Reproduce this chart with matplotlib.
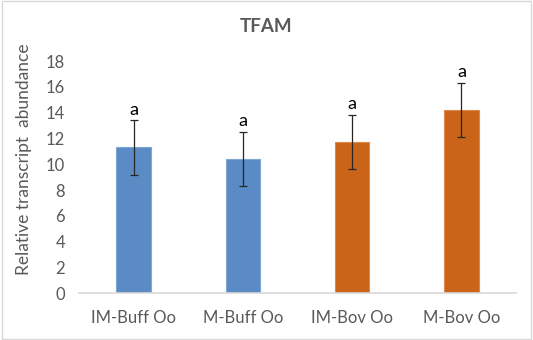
import matplotlib
matplotlib.use("Agg")
import matplotlib.pyplot as plt
from matplotlib.patches import Rectangle

categories = ["IM-Buff Oo", "M-Buff Oo", "IM-Bov Oo", "M-Bov Oo"]
values = [11.3, 10.4, 11.75, 14.2]
errors = [2.1, 2.1, 2.1, 2.1]
letters = ["a", "a", "a", "a"]
yticks = [0, 2, 4, 6, 8, 10, 12, 14, 16, 18]

colors = ["#5B8BC5", "#5B8BC5", "#C96418", "#C96418"]
edgecolors = ["#7FA6D6", "#7FA6D6", "#E0884A", "#E0884A"]

plt.rcParams['font.family'] = ['Lato', 'DejaVu Sans']

fig = plt.figure(figsize=(5.33, 3.40), dpi=100)
fig.patches.append(Rectangle((0.003, 0.004), 0.994, 0.992, transform=fig.transFigure,
                             fill=False, edgecolor="#D9D9D9", linewidth=1))
ax = fig.add_axes([79/533, 1 - 293.3/340, (516-79)/533, (293.3-61)/340])

x = list(range(len(categories)))
ax.bar(x, values, width=0.318, color=colors, edgecolor=edgecolors, linewidth=0.8, zorder=2)
ax.errorbar(x, values, yerr=errors, fmt="none", ecolor="#262626", elinewidth=0.9,
            capsize=3, capthick=0.9, zorder=3)
for xi, v, e, t in zip(x, values, errors, letters):
    ax.text(xi, v + e + 0.2, t, ha="center", va="bottom", fontsize=13, color="#000000")

ax.set_xlim(-0.5, 3.5)
ax.set_ylim(0, 18)
ax.set_yticks(yticks)
ax.set_xticks(x)
ax.set_xticklabels(categories, fontsize=12, color="#595959")
ax.tick_params(axis="y", labelsize=12, colors="#595959", length=0, pad=10)
ax.tick_params(axis="x", length=0, pad=12)
for s in ["top", "right", "left"]:
    ax.spines[s].set_visible(False)
ax.spines["bottom"].set_color("#D9D9D9")
ax.spines["bottom"].set_linewidth(1.2)
ax.set_ylabel("Relative transcript  abundance", fontsize=12.5, color="#595959")
ax.yaxis.set_label_coords(-0.108, 0.578)
fig.text(266/533, 1 - 27/340, "TFAM", ha="center", va="center", fontsize=13.5,
         fontweight="bold", color="#595959")

fig.savefig("out.png", dpi=100)
